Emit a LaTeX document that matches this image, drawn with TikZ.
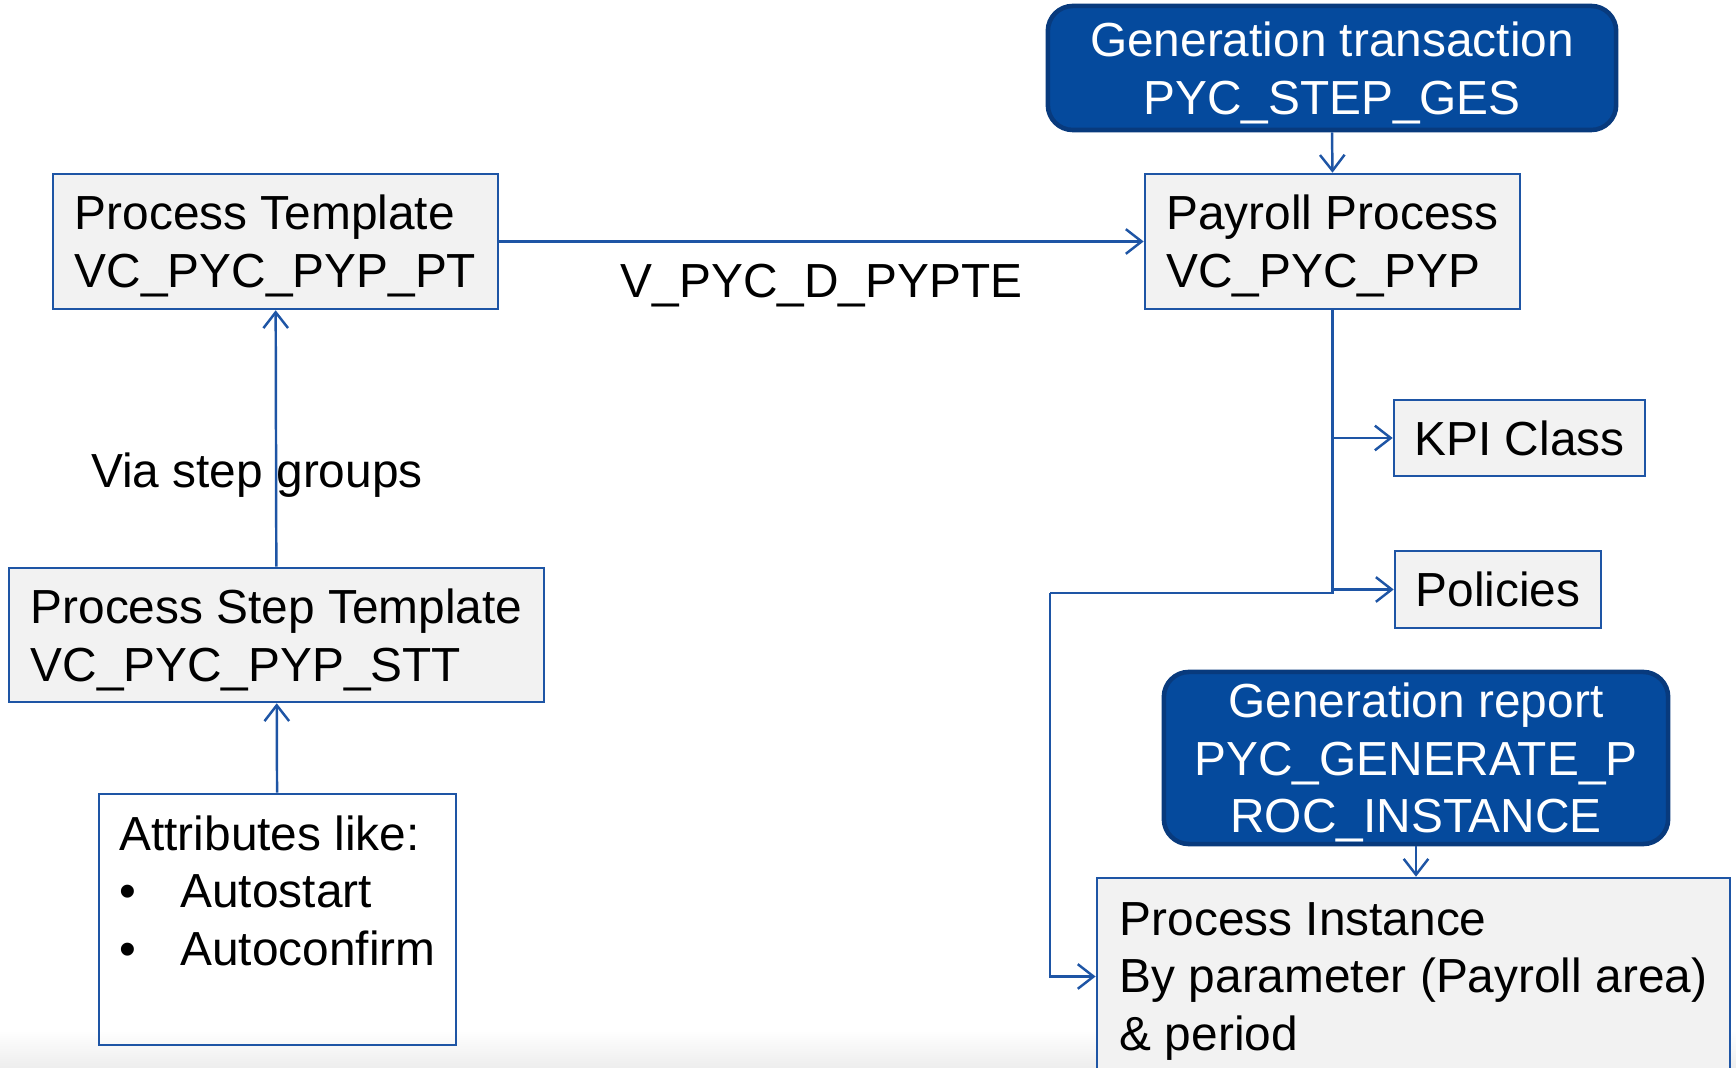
\documentclass[tikz,border=0pt]{standalone}
\usepackage{fontspec}
\setmainfont{Liberation Sans}
\usetikzlibrary{arrows.meta}
\definecolor{lineblue}{RGB}{30,85,165}
\definecolor{darkfill}{RGB}{5,74,157}
\definecolor{darkedge}{RGB}{8,58,125}
\definecolor{boxgray}{RGB}{242,242,242}
\tikzset{
  txt/.style={font=\fontsize{13.6}{16.4}\selectfont},
  box/.style={txt, draw=lineblue, line width=0.7pt, fill=boxgray, align=left, inner sep=0pt, text depth=0pt},
  darkbox/.style={txt, text=white, draw=darkedge, line width=1.3pt, fill=darkfill, rounded corners=0.25cm, align=center, inner sep=0pt, text depth=0pt},
  conn/.style={draw=lineblue, line width=0.7pt},
  arr/.style={conn, -{Straight Barb[length=4.5pt,width=7pt]}}
}
\begin{document}
\begin{tikzpicture}[x=0.01cm, y=-0.01cm]
    \useasboundingbox (0,0) rectangle (1736,1068);
    \clip (0,0) rectangle (1736,1068);
    % faint fade at the bottom edge
    \shade[top color=white, bottom color=black!7] (0,1030) rectangle (1736,1068);

    % Templates on the left
    \node[box, minimum width=4.45cm, minimum height=1.35cm] (pt) at (275.5,241.5) {Process Template\\VC\_PYC\_PYP\_PT};
    \node[box, minimum width=5.35cm, minimum height=1.34cm] (stt) at (276.5,635) {Process Step Template\\VC\_PYC\_PYP\_STT};
    \node[box, fill=none, minimum width=3.57cm, minimum height=2.51cm] (attr) at (277.5,919.5)
        {Attributes like:\\\makebox[0.61cm][l]{•}Autostart\\\makebox[0.61cm][l]{•}Autoconfirm\\\strut};

    % Payroll process and its parts
    \node[darkbox, minimum width=5.68cm, minimum height=1.24cm] (gents) at (1332,68) {Generation transaction\\PYC\_STEP\_GES};
    \node[box, minimum width=3.75cm, minimum height=1.35cm] (pyp) at (1332.5,241.5) {Payroll Process\\VC\_PYC\_PYP};
    \node[box, minimum width=2.51cm, minimum height=0.76cm] (kpi) at (1519.5,438) {KPI Class};
    \node[box, minimum width=2.06cm, minimum height=0.77cm] (pol) at (1498,589.5) {Policies};
    \node[darkbox, minimum width=5.04cm, minimum height=1.72cm] (genrep) at (1416,758) {Generation report\\PYC\_GENERATE\_P\\ROC\_INSTANCE};
    \node[box, minimum width=6.33cm, minimum height=1.97cm] (pi) at (1413.5,976.5) {Process Instance\\By parameter (Payroll area)\\\& period};

    % Connectors
    \draw[arr] (gents.south) -- (pyp.north);
    \draw[arr] (pt) -- (pyp) node[midway, txt, yshift=-0.445cm] (rel) {V\_PYC\_D\_PYPTE};
    \draw[arr] (stt) -- (pt) node[midway, txt, xshift=-0.19cm, yshift=-0.37cm] (via) {Via step groups};
    \draw[arr] (attr) -- (stt);

    \coordinate (split) at (1332.5,593);
    \coordinate (bend) at (1050,593);
    \draw[conn] (pyp.south) -- (split) -- (bend);
    \draw[arr] (pyp.south |- kpi.west) -- (kpi.west);
    \draw[arr] (pyp.south |- pol.west) -- (pol.west);
    \draw[arr] (bend) -- (bend |- pi.west) -- (pi.west);
    \draw[arr] (genrep.south) -- (genrep.south |- pi.north);
\end{tikzpicture}
\end{document}
